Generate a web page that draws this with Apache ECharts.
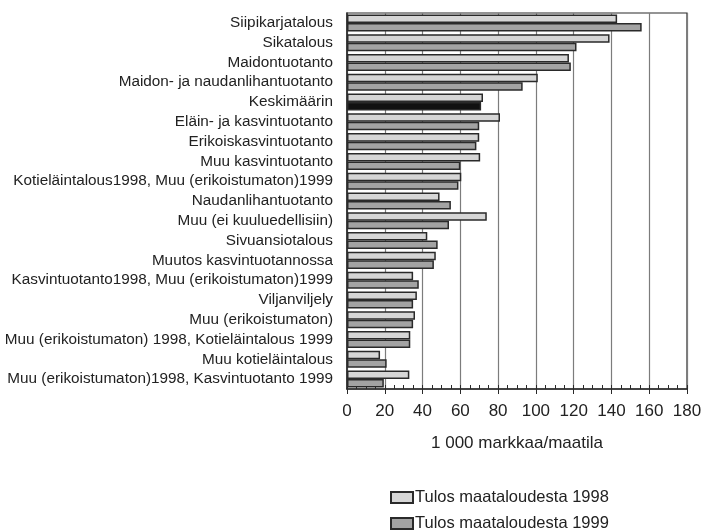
<!DOCTYPE html>
<html>
<head>
<meta charset="utf-8">
<script src="https://cdn.jsdelivr.net/npm/echarts@6/dist/echarts.min.js"></script>
<style>
  html, body { margin: 0; padding: 0; background: #fff; }
  #chart { width: 710px; height: 531px; }
</style>
</head>
<body>
<div id="chart"></div>
<script>
// Farm income by production type, 1998 and 1999 (1 000 mk per farm)
const categories = [
  'Siipikarjatalous',
  'Sikatalous',
  'Maidontuotanto',
  'Maidon- ja naudanlihantuotanto',
  'Keskimäärin',
  'Eläin- ja kasvintuotanto',
  'Erikoiskasvintuotanto',
  'Muu kasvintuotanto',
  'Kotieläintalous1998, Muu (erikoistumaton)1999',
  'Naudanlihantuotanto',
  'Muu (ei kuuluedellisiin)',
  'Sivuansiotalous',
  'Muutos kasvintuotannossa',
  'Kasvintuotanto1998, Muu (erikoistumaton)1999',
  'Viljanviljely',
  'Muu (erikoistumaton)',
  'Muu (erikoistumaton) 1998, Kotieläintalous 1999',
  'Muu kotieläintalous',
  'Muu (erikoistumaton)1998, Kasvintuotanto 1999'
];
const income1998 = [143, 139, 117.5, 101, 72, 81, 70, 70.5, 60.5, 49, 74, 42.5, 47, 35, 37, 36, 33.5, 17.5, 33];
const income1999 = [156, 121.5, 118.5, 93, 71, 70, 68.5, 60, 59, 55, 54, 48, 46, 38, 35, 35, 33.5, 21, 19.5];
const seriesNames = ['Tulos maataloudesta 1998', 'Tulos maataloudesta 1999'];
const averageLabel = 'Keskimäärin';

const FONT = "'Liberation Sans', Arial, sans-serif";
const TEXT = '#222';
const EDGE = '#2a2a2a';

const chart = echarts.init(document.getElementById('chart'), null, { renderer: 'canvas' });

// one legend box per series, stacked under the axis title
const legendTops = [489, 515];
const legends = seriesNames.map((name, i) => ({
  left: 390, top: legendTops[i], padding: 0,
  itemWidth: 22, itemHeight: 11,
  icon: 'rect',
  textStyle: { fontFamily: FONT, fontSize: 16.5, color: TEXT, padding: [0, 0, 0, -3] },
  data: [name]
}));

chart.setOption({
  animation: false,
  backgroundColor: '#fff',
  textStyle: { fontFamily: FONT, color: TEXT },
  grid: {
    left: 347, right: 23, top: 13, bottom: 142,
    show: true, borderColor: EDGE, borderWidth: 1.2, backgroundColor: 'transparent'
  },
  legend: legends,
  xAxis: [{
    type: 'value', min: 0, max: 180, interval: 20,
    name: '1 000 markkaa/maatila',
    nameLocation: 'middle', nameGap: 46,
    nameTextStyle: { fontFamily: FONT, fontSize: 17, color: TEXT },
    axisLine: { show: true, lineStyle: { color: EDGE, width: 1.5 } },
    axisTick: { show: true, inside: false, length: 5, lineStyle: { color: EDGE } },
    axisLabel: { fontFamily: FONT, fontSize: 17, color: TEXT, margin: 14 },
    splitLine: { show: true, lineStyle: { color: '#7c7c7c', width: 1.2 } }
  }, {
    // fine scale marks every 5 units along the bottom edge
    type: 'value', min: 0, max: 180, interval: 5, position: 'bottom',
    axisLine: { show: false },
    axisTick: { show: true, inside: true, length: 4, lineStyle: { color: EDGE } },
    axisLabel: { show: false },
    splitLine: { show: false }
  }],
  yAxis: {
    type: 'category', inverse: true, data: categories,
    axisLine: { show: true, lineStyle: { color: EDGE, width: 1.5 } },
    axisTick: { show: false },
    axisLabel: { interval: 0, fontFamily: FONT, fontSize: 15.3, color: TEXT, margin: 14 }
  },
  series: [{
    name: seriesNames[0], type: 'bar', xAxisIndex: 0,
    barGap: '0%', barCategoryGap: '14%',
    itemStyle: { color: '#d6d6d6', borderColor: EDGE, borderWidth: 1.5 },
    data: income1998
  }, {
    name: seriesNames[1], type: 'bar', xAxisIndex: 0,
    barGap: '0%', barCategoryGap: '14%',
    itemStyle: { color: '#a3a3a3', borderColor: EDGE, borderWidth: 1.5 },
    data: income1999.map((v, i) => categories[i] === averageLabel
      ? { value: v, itemStyle: { color: '#111' } }
      : v)
  }]
});
</script>
</body>
</html>
